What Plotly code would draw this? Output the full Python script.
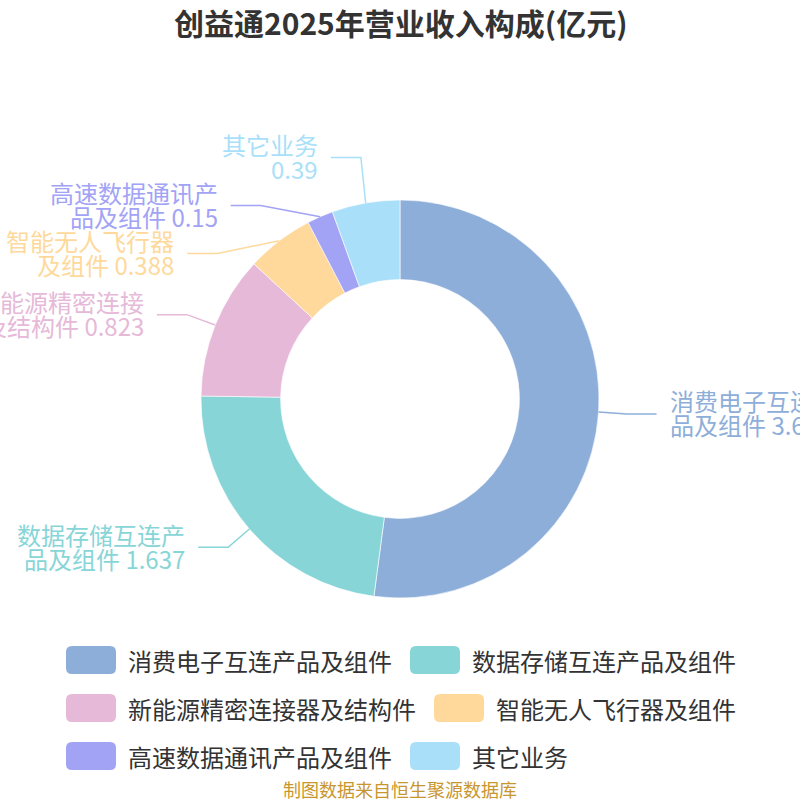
import math
import plotly.graph_objects as go

# ---------------- data ----------------
categories = ["消费电子互连产品及组件", "数据存储互连产品及组件", "新能源精密连接器及结构件",
              "智能无人飞行器及组件", "高速数据通讯产品及组件", "其它业务"]
values = [3.684, 1.637, 0.823, 0.388, 0.15, 0.39]
colors = ["#8EAEDA", "#88D5D8", "#E6B9D8", "#FED99B", "#A2A3F5", "#A9DFF9"]
title_text = "创益通2025年营业收入构成(亿元)"
source_text = "制图数据来自恒生聚源数据库"

# ---------------- layout constants ----------------
W = H = 800
def px(x): return x / W
def py(y): return 1 - y / H

FONT = "Noto Sans CJK SC"
CX, CY, R = 400, 399, 199
HOLE = 0.6
L1, L2, GAP = 28, 30, 11
LABEL_H = 48
LINE_H = 24
LABEL_SIZE = 24
WRAP_CHARS = 7

fig = go.Figure(go.Pie(
    labels=categories, values=values, sort=False, direction="clockwise", rotation=0,
    hole=HOLE, textinfo="none", hoverinfo="label+value",
    marker=dict(colors=colors, line=dict(color="white", width=0.6)),
    domain=dict(x=[px(CX - R), px(CX + R)], y=[py(CY + R), py(CY - R)]),
    showlegend=False,
))

# ---------------- label layout (computed from data) ----------------
total = sum(values)
items = []
cum = 0.0
for i, v in enumerate(values):
    a = (cum + v / 2) / total * 2 * math.pi
    cum += v
    sx, sy = math.sin(a), -math.cos(a)
    x1, y1 = CX + R * sx, CY + R * sy
    x2, y2 = CX + (R + L1) * sx, CY + (R + L1) * sy
    items.append(dict(i=i, x1=x1, y1=y1, x2=x2, nx=x2, y=y2, ny=y2,
                      side=1 if sx >= 0 else -1))

for side in (1, -1):
    grp = sorted([it for it in items if it["side"] == side], key=lambda d: d["y"])
    n = len(grp)
    if n < 2:
        continue
    last = -1e9
    tot = 0.0
    for it in grp:
        top = it["y"] - LABEL_H / 2
        if top < last:
            d = last - top
            it["y"] += d
            tot += d
        last = it["y"] + LABEL_H / 2
    if tot <= 0:
        continue
    for it in grp:
        it["y"] -= tot / n
    for _ in range(20):
        for k, it in enumerate(grp):
            t = it["ny"]
            if t > it["y"]:
                lim = grp[k + 1]["y"] - LABEL_H if k + 1 < n else t
                it["y"] = max(it["y"], min(t, lim))
            elif t < it["y"]:
                lim = grp[k - 1]["y"] + LABEL_H if k > 0 else t
                it["y"] = min(it["y"], max(t, lim))
    rA = R + L1
    for upper in (True, False):
        s = [it for it in grp if (it["y"] < CY) == upper]
        if not s:
            continue
        ref = max(s, key=lambda d: abs(d["y"] - CY))
        dy = abs(ref["y"] - CY)
        dx = ref["nx"] - CX
        rB = math.sqrt(dy * dy / (1 - dx * dx / rA / rA)) if abs(dx) < rA else rA
        for it in s:
            dyy = abs(it["y"] - CY)
            it["x2"] = CX + side * math.sqrt(max(0.0, 1 - dyy * dyy / rB / rB)) * rA


def label_lines(name, v):
    val = f"{v:g}"
    if len(name) < WRAP_CHARS:
        return [name, val]
    return [name[:WRAP_CHARS], name[WRAP_CHARS:] + " " + val]


for it in items:
    c = colors[it["i"]]
    side = it["side"]
    x3 = it["x2"] + side * L2
    path = (f"M{px(it['x1'])},{py(it['y1'])} L{px(it['x2'])},{py(it['y'])} "
            f"L{px(x3)},{py(it['y'])}")
    fig.add_shape(type="path", path=path, xref="paper", yref="paper",
                  line=dict(color=c, width=1.5), layer="above")
    lines = label_lines(categories[it["i"]], values[it["i"]])
    tx = x3 + side * GAP
    for k, line in enumerate(lines):
        ly = it["y"] + (k - (len(lines) - 1) / 2) * LINE_H - 1
        fig.add_annotation(x=px(tx), y=py(ly), xref="paper", yref="paper", text=line,
                           showarrow=False, xanchor="left" if side > 0 else "right",
                           yanchor="middle",
                           font=dict(family=FONT, size=LABEL_SIZE, color=c))

# ---------------- custom legend ----------------
ICON_W, ICON_H, ICON_R = 50, 28, 6
TEXT_OFF = 60
ITEM_GAP = 20
LEG_SIZE = 24
LEG_MAXW = 700
ROW0_Y, ROW_DY = 660, 48
LEG_CX = 400

rows, cur, curw = [], [], 0
for i, name in enumerate(categories):
    w = TEXT_OFF + len(name) * LEG_SIZE
    add = w if not cur else curw + ITEM_GAP + w
    if cur and add > LEG_MAXW:
        rows.append((cur, curw))
        cur, curw, add = [], 0, w
    cur.append((i, w))
    curw = add
rows.append((cur, curw))
blockw = max(rw for _, rw in rows)
left = LEG_CX - blockw / 2


def rrect(x0, y0, x1, y1, r):
    pts = [
        f"M{px(x0 + r)},{py(y0)}", f"L{px(x1 - r)},{py(y0)}",
        f"Q{px(x1)},{py(y0)} {px(x1)},{py(y0 + r)}", f"L{px(x1)},{py(y1 - r)}",
        f"Q{px(x1)},{py(y1)} {px(x1 - r)},{py(y1)}", f"L{px(x0 + r)},{py(y1)}",
        f"Q{px(x0)},{py(y1)} {px(x0)},{py(y1 - r)}", f"L{px(x0)},{py(y0 + r)}",
        f"Q{px(x0)},{py(y0)} {px(x0 + r)},{py(y0)}", "Z",
    ]
    return " ".join(pts)


for r_i, (row, _) in enumerate(rows):
    yc = ROW0_Y + r_i * ROW_DY
    x = left
    for i, w in row:
        fig.add_shape(type="path", path=rrect(x, yc - ICON_H / 2, x + ICON_W, yc + ICON_H / 2, ICON_R),
                      xref="paper", yref="paper", fillcolor=colors[i], line=dict(width=0))
        fig.add_annotation(x=px(x + TEXT_OFF), y=py(yc), xref="paper", yref="paper",
                           text=categories[i], showarrow=False, xanchor="left", yanchor="middle",
                           font=dict(family=FONT, size=LEG_SIZE, color="#333333"))
        x += w + ITEM_GAP

# ---------------- title & source ----------------
fig.add_annotation(x=0.5, y=py(22), xref="paper", yref="paper", text=title_text,
                   showarrow=False, xanchor="center", yanchor="middle",
                   font=dict(family=FONT, size=30, color="#333333", weight="bold"))
fig.add_annotation(x=0.5, y=py(789), xref="paper", yref="paper", text=source_text,
                   showarrow=False, xanchor="center", yanchor="middle",
                   font=dict(family=FONT, size=18, color="#C8962E"))

fig.update_layout(width=W, height=H, margin=dict(l=0, r=0, t=0, b=0),
                  paper_bgcolor="white", plot_bgcolor="white", showlegend=False)
fig.write_html("out.html", config={"displayModeBar": False},
               post_script="document.body.style.margin='0';document.body.style.overflow='hidden';")
